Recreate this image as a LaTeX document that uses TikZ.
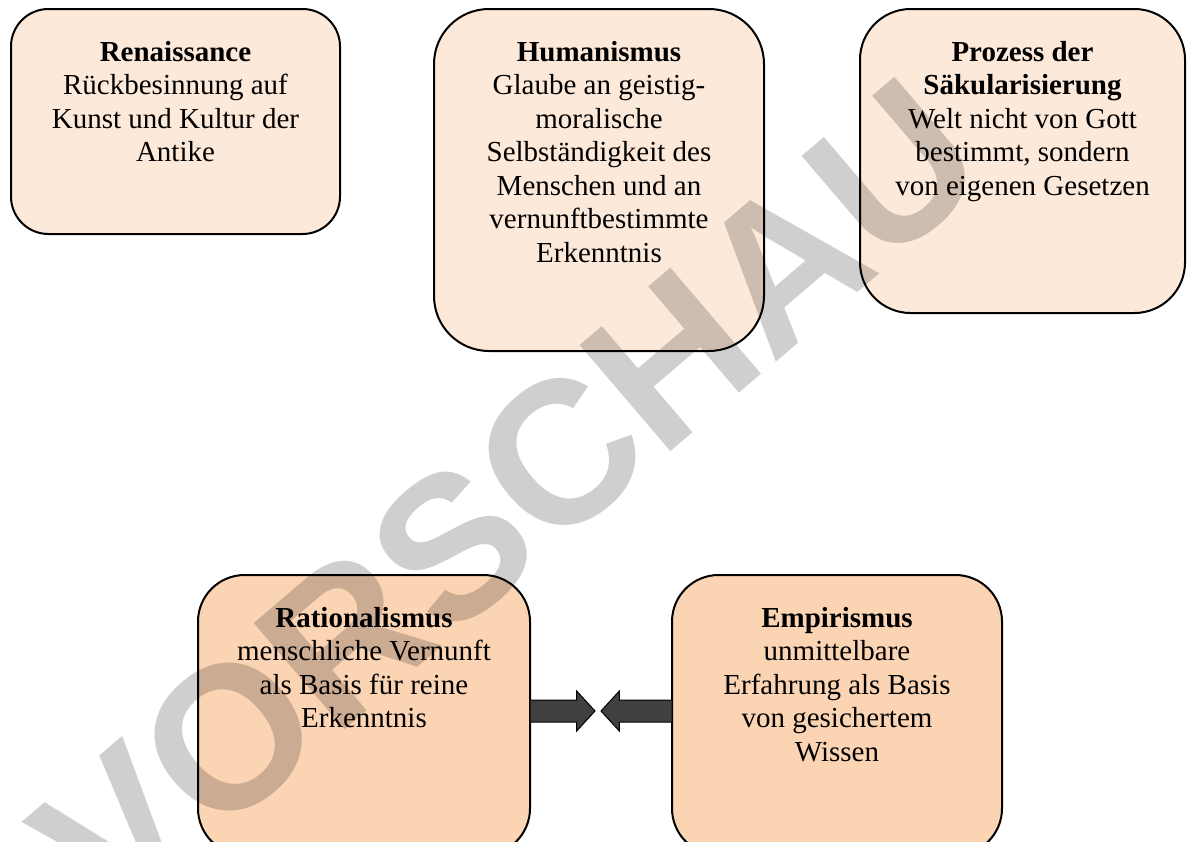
\documentclass[tikz,border=0pt]{standalone}
\usepackage{fontspec}
\setmainfont{Liberation Serif}
\newfontfamily\wmfont{Liberation Sans}
\usetikzlibrary{positioning,shapes.arrows}

\definecolor{toppeach}{HTML}{FDE9D9}
\definecolor{lowpeach}{HTML}{FBD4B4}
\definecolor{arrowgray}{HTML}{404040}

% width, height, bold title, body lines
\newcommand{\boxtext}[4]{\parbox[c][#2][t]{#1}{\centering\rule{0pt}{26pt}\textbf{#3}\\#4}}

\begin{document}
\begin{tikzpicture}[x=0.5pt,y=-0.5pt,
		box/.style={draw=black, line width=1pt, rounded corners=#1, inner sep=0pt, outer sep=0pt,
			anchor=north west, font=\fontsize{14.5pt}{16.75pt}\selectfont},
		blockarrow/.style={single arrow, draw=black, line width=0.5pt, fill=arrowgray, inner xsep=0pt,
			inner ysep=5.25pt, outer sep=0pt, single arrow head extend=4.5pt, single arrow tip angle=95, anchor=tail},
		wm/.style={font=\wmfont\bfseries\fontsize{101.5pt}{101.5pt}\selectfont, text=black,
			text opacity=0.19, inner sep=0pt}
		]
		\useasboundingbox (0,0) rectangle (1187,841);
		
		% upper row
		\node[box=18.75pt, fill=toppeach] (ren) at (11,9)
		{\boxtext{164.5pt}{112.5pt}{Renaissance}{Rückbesinnung auf\\Kunst und Kultur der\\Antike}};
		\node[box=27.5pt, fill=toppeach, right=47pt of ren.north east, anchor=north west] (hum)
		{\boxtext{165pt}{171pt}{Humanismus}{Glaube an geistig-\\moralische\\Selbständigkeit des\\Menschen und an\\vernunftbestimmte\\Erkenntnis}};
		\node[box=25.3pt, fill=toppeach, right=48pt of hum.north east, anchor=north west] (sak)
		{\boxtext{162.5pt}{152pt}{Prozess der\\Säkularisierung}{Welt nicht von Gott\\bestimmt, sondern\\von eigenen Gesetzen}};
		
		% lower row
		\node[box=23.3pt, fill=lowpeach] (rat) at (198,575)
		{\boxtext{166pt}{140pt}{Rationalismus}{menschliche Vernunft\\als Basis für reine\\Erkenntnis}};
		\node[box=23.3pt, fill=lowpeach, right=71pt of rat.north east, anchor=north west] (emp)
		{\boxtext{165pt}{140pt}{Empirismus}{unmittelbare\\Erfahrung als Basis\\von gesichertem\\Wissen}};
		
		% arrows
		\node[blockarrow, minimum height=32.5pt] (ratarrow) at ([yshift=2pt]rat.east) {};
		\node[blockarrow, minimum height=35.5pt, shape border rotate=180] (emparrow) at ([yshift=2pt]emp.west) {};
		
		% watermark
		\node[wm, rotate=40.5] (vorschau) at (508,499) {VORSCHAU};
\end{tikzpicture}
\end{document}
